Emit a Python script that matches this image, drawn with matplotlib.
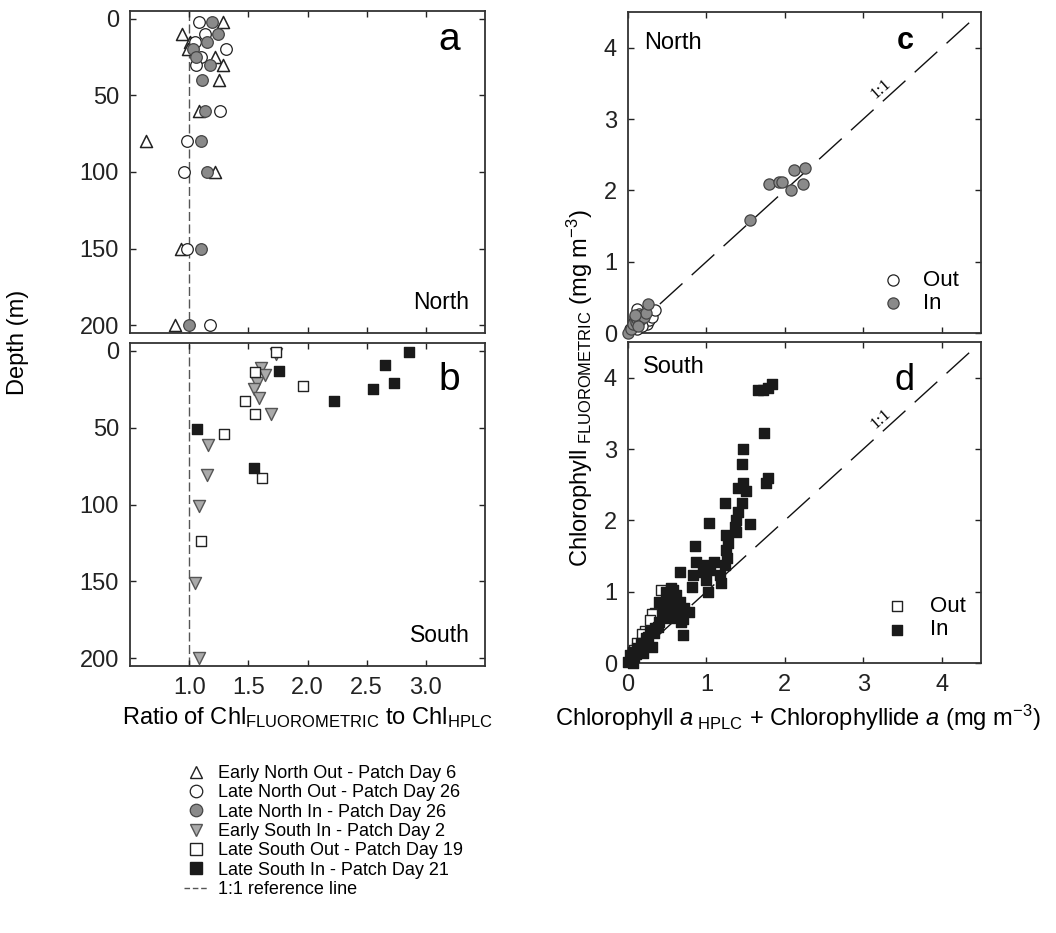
import matplotlib
matplotlib.use("Agg")
import matplotlib.pyplot as plt
from matplotlib.lines import Line2D

plt.rcParams['font.family'] = ['Liberation Sans', 'DejaVu Sans']
plt.rcParams['mathtext.fontset'] = 'custom'
plt.rcParams['mathtext.rm'] = 'Liberation Sans'
plt.rcParams['mathtext.it'] = 'Liberation Sans:italic'
plt.rcParams['mathtext.bf'] = 'Liberation Sans:bold'

# ---------------- data: panel a (North profiles) ----------------
eno_depth = [2, 10, 15, 20, 25, 30, 40, 60, 80, 100, 150, 200]
eno_ratio = [1.29, 0.94, 1.01, 0.99, 1.22, 1.29, 1.25, 1.085, 0.635, 1.22, 0.935, 0.88]
lno_depth = [2, 10, 15, 20, 25, 30, 60, 80, 100, 150, 200]
lno_ratio = [1.085, 1.13, 1.05, 1.31, 1.10, 1.06, 1.26, 0.98, 0.96, 0.98, 1.175]
lni_depth = [2, 10, 15, 20, 25, 30, 40, 60, 80, 100, 150, 200]
lni_ratio = [1.19, 1.245, 1.15, 1.03, 1.06, 1.18, 1.11, 1.13, 1.10, 1.15, 1.10, 1.0]

# ---------------- data: panel b (South profiles) ----------------
esi_depth = [2, 11, 16, 21, 25, 31, 41, 61, 81, 101, 151, 200]
esi_ratio = [1.733, 1.605, 1.64, 1.57, 1.546, 1.59, 1.69, 1.155, 1.152, 1.085, 1.048, 1.085]
lso_depth = [1, 14, 23, 33, 41, 54, 83, 124]
lso_ratio = [1.738, 1.555, 1.958, 1.476, 1.56, 1.293, 1.614, 1.096]
lsi_depth = [1, 9, 13, 21, 25, 33, 51, 76]
lsi_ratio = [2.856, 2.653, 1.76, 2.73, 2.554, 2.222, 1.068, 1.546]

# ---------------- data: panel c (North scatter) ----------------
n_out_hplc = [0.03, 0.06, 0.09, 0.11, 0.14, 0.17, 0.20, 0.24, 0.27, 0.30, 0.35, 0.12, 0.18, 0.08]
n_out_fluo = [0.05, 0.10, 0.22, 0.33, 0.27, 0.20, 0.25, 0.12, 0.18, 0.22, 0.32, 0.06, 0.10, 0.15]
n_in_hplc = [0.00, 0.04, 0.07, 0.10, 0.12, 0.15, 0.18, 0.20, 0.23, 0.25, 0.13, 0.09,
             1.55, 1.80, 1.92, 1.96, 2.08, 2.12, 2.23, 2.25]
n_in_fluo = [0.00, 0.05, 0.12, 0.15, 0.20, 0.18, 0.25, 0.22, 0.28, 0.40, 0.10, 0.25,
             1.59, 2.09, 2.12, 2.11, 2.01, 2.28, 2.09, 2.32]

# ---------------- data: panel d (South scatter) ----------------
s_out_hplc = [0.42, 0.35, 0.30, 0.28, 0.22, 0.18, 0.12, 0.08, 0.05]
s_out_fluo = [1.02, 0.70, 0.68, 0.60, 0.45, 0.40, 0.28, 0.18, 0.10]
s_in_hplc = [1.66, 1.72, 1.78, 1.84, 1.73, 1.47, 1.45, 1.47, 1.40, 1.50, 1.78, 1.76, 1.45, 1.24,
             1.40, 1.38, 1.36, 1.38, 1.55, 1.03, 1.25, 1.28, 1.25, 1.26, 1.24, 0.85, 0.87, 0.99,
             1.10, 0.95, 1.04, 1.17, 1.19, 0.83, 0.82, 1.02, 0.99, 0.66, 0.57, 0.61, 0.55, 0.66,
             0.49, 0.72, 0.78, 0.61, 0.44, 0.53, 0.68, 0.40, 0.70, 0.34, 0.28, 0.23, 0.30, 0.17,
             0.11, 0.06, 0.19, 0.02, 0.00, 0.06, 0.49, 0.55, 0.40, 0.50, 0.60, 0.65, 0.50, 0.45,
             0.58, 0.38, 0.33, 0.25, 0.15, 0.10, 0.08, 0.70]
s_in_fluo = [3.83, 3.83, 3.85, 3.91, 3.23, 3.00, 2.79, 2.52, 2.45, 2.41, 2.59, 2.53, 2.24, 2.24,
             2.12, 2.00, 1.91, 1.84, 1.95, 1.96, 1.80, 1.68, 1.58, 1.47, 1.37, 1.64, 1.42, 1.37,
             1.42, 1.28, 1.30, 1.23, 1.12, 1.23, 1.07, 1.00, 1.16, 1.27, 1.02, 0.95, 0.86, 0.86,
             0.81, 0.77, 0.72, 0.70, 0.67, 0.63, 0.58, 0.58, 0.39, 0.49, 0.44, 0.35, 0.23, 0.28,
             0.21, 0.16, 0.14, 0.11, 0.02, 0.00, 1.00, 1.05, 0.86, 0.90, 0.80, 0.70, 0.75, 0.70,
             0.65, 0.50, 0.42, 0.36, 0.20, 0.12, 0.08, 0.62]

labels_left = ["Early North Out - Patch Day 6", "Late North Out - Patch Day 26",
               "Late North In - Patch Day 26", "Early South In - Patch Day 2",
               "Late South Out - Patch Day 19", "Late South In - Patch Day 21",
               "1:1 reference line"]
ratio_ticks = [1.0, 1.5, 2.0, 2.5, 3.0]
depth_ticks = [0, 50, 100, 150, 200]
chl_ticks = [0, 1, 2, 3, 4]

# ---------------- figure ----------------
W, H = 1056, 933
fig = plt.figure(figsize=(W / 100, H / 100), dpi=100)

def px_axes(l, t, r, b):
    return fig.add_axes([l / W, 1 - b / H, (r - l) / W, (b - t) / H])

ax_a = px_axes(130, 11, 485, 333)
ax_b = px_axes(130, 343, 485, 666)
ax_c = px_axes(628, 12, 981, 333)
ax_d = px_axes(628, 342, 981, 663)

spine_col = '#333333'
tick_fs = 17
lab_fs = 17
for ax in (ax_a, ax_b, ax_c, ax_d):
    for s in ax.spines.values():
        s.set_linewidth(1.3)
        s.set_color(spine_col)
    ax.tick_params(direction='in', length=4, width=1, top=True, right=True,
                   labelsize=tick_fs, pad=8, colors='#222222')

GREY = '#8a8a8a'
LGREY = '#aaaaaa'
BLACK = '#1a1a1a'

# ----- panels a, b -----
for ax in (ax_a, ax_b):
    ax.axvline(1.0, color='#555555', lw=1, dashes=(6.5, 2.5), zorder=1)
    ax.set_xlim(0.5, 3.5)
    ax.set_ylim(205, -5)
    ax.set_xticks(ratio_ticks)
    ax.set_yticks(depth_ticks)

ax_a.scatter(eno_ratio, eno_depth, marker='^', s=75, facecolors='white',
             edgecolors='#222222', linewidths=1.1, zorder=3)
ax_a.scatter(lno_ratio, lno_depth, marker='o', s=70, facecolors='white',
             edgecolors='#222222', linewidths=0.9, zorder=3)
ax_a.scatter(lni_ratio, lni_depth, marker='o', s=70, facecolors=GREY,
             edgecolors='#444444', linewidths=0.9, zorder=4)
ax_a.tick_params(labelbottom=False)
ax_a.text(0.93, 0.879, 'a', transform=ax_a.transAxes, fontsize=28, ha='right', va='baseline')
ax_a.text(0.955, 0.075, 'North', transform=ax_a.transAxes, fontsize=16.5, ha='right', va='baseline')

ax_b.scatter(esi_ratio, esi_depth, marker='v', s=75, facecolors=LGREY,
             edgecolors='#555555', linewidths=1.0, zorder=3)
ax_b.scatter(lso_ratio, lso_depth, marker='s', s=55, facecolors='white',
             edgecolors='#222222', linewidths=1.0, zorder=4)
ax_b.scatter(lsi_ratio, lsi_depth, marker='s', s=55, facecolors=BLACK,
             edgecolors=BLACK, linewidths=1.0, zorder=4)
ax_b.text(0.93, 0.854, 'b', transform=ax_b.transAxes, fontsize=28, ha='right', va='baseline')
ax_b.text(0.958, 0.075, 'South', transform=ax_b.transAxes, fontsize=16.5, ha='right', va='baseline')

# ----- panels c, d -----
for ax in (ax_c, ax_d):
    ax.set_xlim(0, 4.5)
    ax.set_ylim(0, 4.5)
    ax.set_xticks(chl_ticks)
    ax.set_yticks(chl_ticks)
    ax.plot([0, 4.35], [0, 4.35], color='#111111', lw=1, dashes=(22, 9), zorder=2)
    ax.text(3.22, 3.42, '1:1', rotation=42, fontsize=12, family='Liberation Serif',
            ha='center', va='center', rotation_mode='anchor')

h_cout = ax_c.scatter(n_out_hplc, n_out_fluo, marker='o', s=65, facecolors='white',
                      edgecolors='#222222', linewidths=0.9, zorder=3, clip_on=False, label='Out')
h_cin = ax_c.scatter(n_in_hplc, n_in_fluo, marker='o', s=65, facecolors=GREY,
                     edgecolors='#444444', linewidths=0.9, zorder=4, clip_on=False, label='In')
ax_c.tick_params(labelbottom=False)
ax_c.text(0.047, 0.884, 'North', transform=ax_c.transAxes, fontsize=17, ha='left', va='baseline')
ax_c.text(0.784, 0.884, 'c', transform=ax_c.transAxes, fontsize=22, fontweight='bold',
          ha='center', va='baseline')
ax_c.legend(handles=[h_cout, h_cin], loc='upper left', bbox_to_anchor=(0.719, 0.196),
            frameon=False, fontsize=16, handlelength=1.0, handletextpad=0.85,
            labelspacing=0.1, borderpad=0, borderaxespad=0, scatterpoints=1)

h_dout = ax_d.scatter(s_out_hplc, s_out_fluo, marker='s', s=45, facecolors='white',
                      edgecolors='#222222', linewidths=1.0, zorder=3, clip_on=False, label='Out')
h_din = ax_d.scatter(s_in_hplc, s_in_fluo, marker='s', s=45, facecolors=BLACK,
                     edgecolors=BLACK, linewidths=1.0, zorder=4, clip_on=False, label='In')
ax_d.text(0.041, 0.902, 'South', transform=ax_d.transAxes, fontsize=17, ha='left', va='baseline')
ax_d.text(0.784, 0.85, 'd', transform=ax_d.transAxes, fontsize=26, ha='center', va='baseline')
ax_d.legend(handles=[h_dout, h_din], loc='upper left', bbox_to_anchor=(0.731, 0.208),
            frameon=False, fontsize=16, handlelength=1.0, handletextpad=1.0,
            labelspacing=0.1, borderpad=0, borderaxespad=0, scatterpoints=1)

# ----- axis labels -----
fig.text(18 / W, 1 - 342 / H, 'Depth (m)', rotation=90, fontsize=lab_fs, ha='center', va='center')
fig.text(307 / W, 1 - 718 / H, r'Ratio of Chl$_{\mathrm{FLUOROMETRIC}}$ to Chl$_{\mathrm{HPLC}}$',
         fontsize=lab_fs, ha='center', va='center')
fig.text(580 / W, 1 - 388 / H, r'Chlorophyll$_{\mathrm{\ FLUOROMETRIC}}$ (mg m$^{-3}$)',
         rotation=90, fontsize=lab_fs, ha='center', va='center')
fig.text(798 / W, 1 - 718 / H,
         r'Chlorophyll $a$$_{\mathrm{\ HPLC}}$ + Chlorophyllide $a$ (mg m$^{-3}$)',
         fontsize=lab_fs, ha='center', va='center')

# ----- bottom-left legend -----
leg_handles = [
    Line2D([], [], ls='none', marker='^', ms=9, mfc='white', mec='#222222', mew=1.0),
    Line2D([], [], ls='none', marker='o', ms=9, mfc='white', mec='#222222', mew=0.9),
    Line2D([], [], ls='none', marker='o', ms=9, mfc=GREY, mec='#444444', mew=0.9),
    Line2D([], [], ls='none', marker='v', ms=9, mfc=LGREY, mec='#555555', mew=1.0),
    Line2D([], [], ls='none', marker='s', ms=8, mfc='white', mec='#222222', mew=1.0),
    Line2D([], [], ls='none', marker='s', ms=8, mfc=BLACK, mec=BLACK, mew=1.0),
    Line2D([], [], color='#555555', lw=1, dashes=(4, 2)),
]
fig.legend(handles=leg_handles, labels=labels_left, loc='upper left',
           bbox_to_anchor=(184 / W, 1 - 765 / H), frameon=False, fontsize=13,
           handlelength=1.38, handletextpad=0.5, labelspacing=0.13,
           borderpad=0, borderaxespad=0)

fig.savefig('out.png', dpi=100)
